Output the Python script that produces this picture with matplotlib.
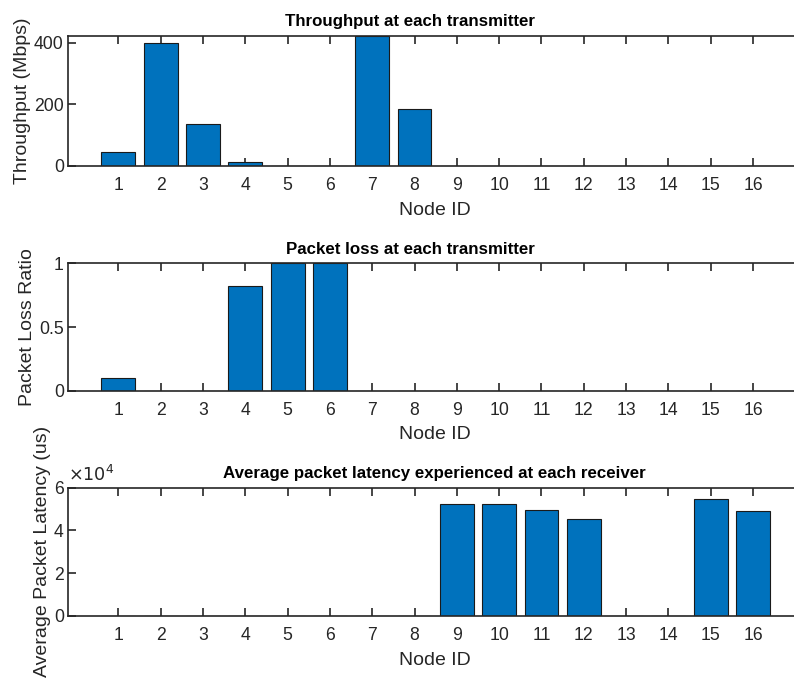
import matplotlib
matplotlib.use("Agg")
import matplotlib.pyplot as plt
from matplotlib.ticker import FuncFormatter
import numpy as np

plt.rcParams['font.family'] = ['Liberation Sans', 'DejaVu Sans']

node_ids = list(range(1, 17))
throughput = [43.6, 398, 134.6, 11, 0, 0, 423, 185, 0, 0, 0, 0, 0, 0, 0, 0]
packet_loss = [0.097, 0, 0, 0.82, 1.0, 1.0, 0, 0, 0, 0, 0, 0, 0, 0, 0, 0]
latency = [0, 0, 0, 0, 0, 0, 0, 0, 52500, 52500, 49400, 45200, 0, 0, 54600, 48900]

titles = ["Throughput at each transmitter",
          "Packet loss at each transmitter",
          "Average packet latency experienced at each receiver"]
ylabels = ["Throughput (Mbps)", "Packet Loss Ratio", "Average Packet Latency (us)"]

W, H = 794, 679
fig = plt.figure(figsize=(W / 100, H / 100), dpi=100)

left = 68 / W
right = 1.0
# (top_px, bottom_px)
boxes = [(35.7, 165.7), (263.3, 390.7), (487.7, 615.7)]
title_cx = [410, 410, 434]

bar_color = '#0072BD'
ax_color = '#262626'
tick_fs = 12.7
label_fs = 14
title_fs = 12.2

series = [throughput, packet_loss, latency]
ylims = [(0, 423), (0, 1), (0, 60000)]
yticks = [[0, 200, 400], [0, 0.5, 1], [0, 20000, 40000, 60000]]

for i in range(3):
    t, b = boxes[i]
    ax = fig.add_axes([left, 1 - b / H, right - left, (b - t) / H])
    ax.bar(node_ids, series[i], width=0.8, color=bar_color, edgecolor='#1a1a1a', linewidth=0.8, zorder=2)
    ax.set_xlim(-0.19, 16.97)
    ax.set_ylim(*ylims[i])
    ax.set_xticks(node_ids)
    ax.set_yticks(yticks[i])
    for side in ['left', 'top', 'bottom']:
        ax.spines[side].set_color(ax_color)
        ax.spines[side].set_linewidth(1.2)
    ax.spines['right'].set_visible(False)
    ax.tick_params(axis='x', direction='in', top=True, bottom=True, length=5.5, width=1.2,
                   colors=ax_color, labelsize=tick_fs, pad=8)
    ax.tick_params(axis='y', direction='in', left=True, right=False, length=5.5, width=1.2,
                   colors=ax_color, labelsize=tick_fs, pad=3)
    if i == 2:
        ax.yaxis.set_major_formatter(FuncFormatter(lambda v, p: '%g' % (v / 1e4)))
        ax.text(0.0, 1.02, r'$\times10^4$', transform=ax.transAxes, fontsize=tick_fs,
                color=ax_color, ha='left', va='bottom')
    else:
        ax.yaxis.set_major_formatter(FuncFormatter(lambda v, p: '%g' % v))
    ax.set_xlabel("Node ID", fontsize=label_fs, color=ax_color)
    ax.xaxis.set_label_coords((435 - 68) / (W - 68), -0.28)
    ax.set_ylabel(ylabels[i], fontsize=label_fs, color=ax_color, labelpad=2)
    cx = (title_cx[i] - 68) / (W - 68)
    ax.set_title(titles[i], fontsize=title_fs, fontweight='bold', x=cx, pad=7)

fig.savefig("out.png", dpi=100)
